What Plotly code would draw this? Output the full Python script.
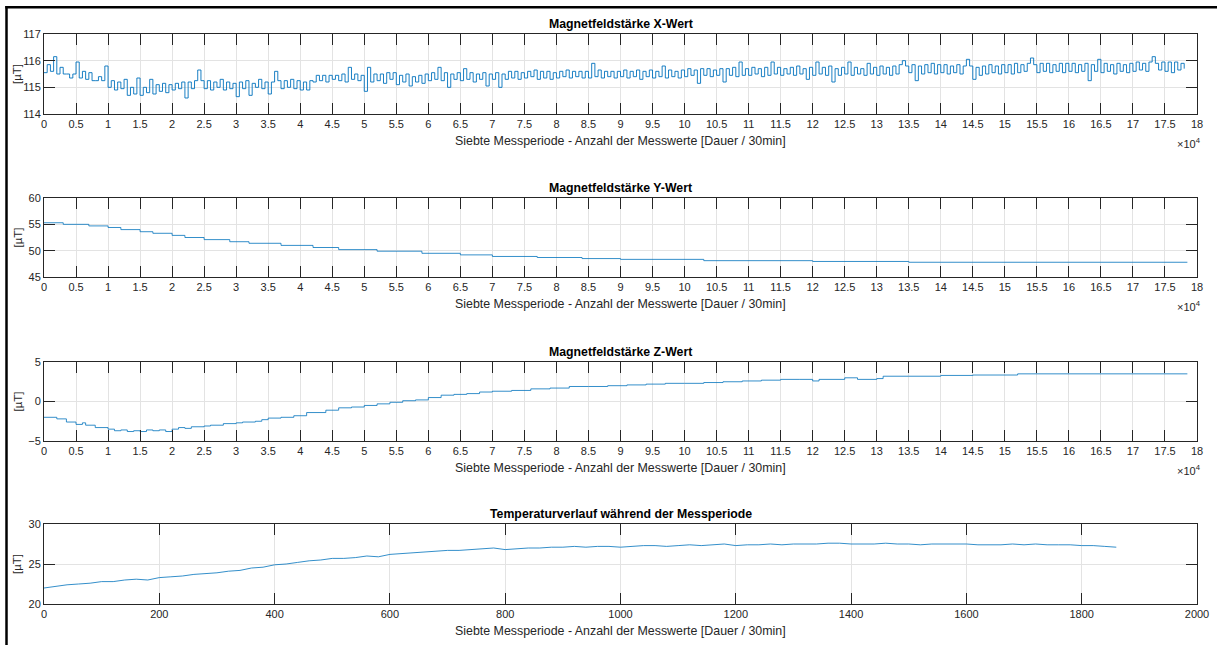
import numpy as np
import plotly.graph_objects as go

# ---------------- data ----------------
# Magnetfeldstärke X-Wert: one reading per 500 samples
x_vals = [
    115.55, 115.85, 115.6, 116.15, 115.5, 115.75, 115.5, 115.5, 115.35, 115.5,
    115.95, 115.35, 115.6, 115.3, 115.55, 115.25, 115.25, 115.4, 115.25, 115.8,
    115.0, 115.25, 114.9, 115.2, 114.95, 115.3, 114.7, 115.0, 114.75, 115.35,
    114.7, 115.0, 114.8, 115.3, 114.75, 115.1, 114.85, 115.15, 114.8, 115.1,
    114.9, 115.15, 114.95, 115.2, 114.6, 115.2, 114.95, 115.25, 115.65, 115.25,
    114.95, 115.25, 114.9, 115.2, 115.0, 115.3, 114.9, 115.2, 114.95, 115.15,
    114.65, 115.2, 114.95, 115.25, 114.7, 115.15, 115.0, 115.3, 114.95, 115.2,
    114.75, 115.2, 115.6, 115.25, 114.95, 115.25, 115.0, 115.3, 114.95, 115.25,
    114.9, 115.2, 114.9, 115.25, 115.2, 115.45, 115.25, 115.45, 115.2, 115.45,
    115.3, 115.45, 115.25, 115.5, 115.2, 115.75, 115.3, 115.5, 115.25, 115.45,
    114.85, 115.75, 115.2, 115.5, 115.25, 115.5, 115.15, 115.55, 115.3, 115.55,
    115.1, 115.45, 115.2, 115.5, 115.05, 115.4, 115.2, 115.45, 115.15, 115.5,
    115.25, 115.55, 115.3, 115.75, 115.25, 115.55, 115.0, 115.5, 115.3, 115.55,
    115.25, 115.7, 115.3, 115.55, 115.2, 115.5, 115.3, 115.55, 115.05, 115.5,
    115.3, 115.55, 115.0, 115.5, 115.3, 115.6, 115.35, 115.6, 115.3, 115.55,
    115.35, 115.6, 115.4, 115.65, 115.3, 115.6, 115.35, 115.6, 115.3, 115.55,
    115.35, 115.6, 115.4, 115.65, 115.35, 115.6, 115.4, 115.6, 115.35, 115.6,
    115.35, 115.9, 115.4, 115.65, 115.35, 115.6, 115.4, 115.6, 115.35, 115.6,
    115.4, 115.65, 115.35, 115.6, 115.4, 115.65, 115.3, 115.6, 115.4, 115.65,
    115.35, 115.6, 115.4, 115.8, 115.35, 115.65, 115.4, 115.6, 115.35, 115.65,
    115.4, 115.7, 115.45, 115.65, 115.15, 115.7, 115.45, 115.7, 115.4, 115.65,
    115.45, 115.7, 115.2, 115.7, 115.45, 115.75, 115.4, 115.95, 115.45, 115.7,
    115.45, 115.75, 115.5, 115.7, 115.4, 115.75, 115.45, 115.95, 115.5, 115.75,
    115.45, 115.7, 115.5, 115.75, 115.45, 115.8, 115.5, 115.7, 115.3, 115.75,
    115.45, 115.95, 115.5, 115.75, 115.45, 115.8, 115.2, 115.7, 115.45, 115.75,
    115.5, 115.95, 115.45, 115.75, 115.5, 115.7, 115.45, 115.9, 115.5, 115.75,
    115.45, 115.8, 115.5, 115.75, 115.45, 115.8, 115.5, 115.85, 116.0, 115.8,
    115.55, 115.85, 115.25, 115.8, 115.5, 115.85, 115.55, 115.9, 115.5, 115.85,
    115.55, 115.85, 115.5, 115.8, 115.55, 115.85, 115.5, 115.8, 116.05, 115.8,
    115.3, 115.75, 115.45, 115.8, 115.5, 115.85, 115.55, 115.8, 115.5, 115.85,
    115.55, 115.85, 115.5, 115.9, 115.55, 115.85, 115.6, 115.9, 116.1, 115.85,
    115.55, 115.9, 115.6, 115.9, 115.55, 115.85, 115.6, 115.9, 115.55, 115.9,
    115.6, 115.9, 115.55, 115.85, 115.6, 115.9, 115.25, 115.85, 115.6, 116.05,
    115.55, 115.9, 115.6, 115.85, 115.5, 115.9, 115.6, 115.85, 115.55, 115.9,
    115.6, 115.95, 115.65, 115.9, 115.6, 115.95, 116.15, 115.9, 115.65, 115.95,
    115.6, 115.95, 115.55, 115.95, 115.65, 115.9, 115.7]
x_step = 500

# Magnetfeldstärke Y-Wert: step levels (sample index, value)
y_idx = [0, 3000, 7000, 10000, 12000, 15000, 17000, 20000, 22000, 25000,
         29000, 32000, 37000, 42000, 46000, 52000, 59000, 65000, 70000, 77000,
         84000, 90000, 103000, 120000, 135000, 178500]
y_vals = [55.3, 55.0, 54.7, 54.4, 54.0, 53.6, 53.3, 52.9, 52.5, 52.1,
          51.7, 51.4, 51.0, 50.6, 50.2, 49.9, 49.5, 49.2, 48.9, 48.7,
          48.5, 48.35, 48.1, 47.95, 47.8, 47.8]

# Magnetfeldstärke Z-Wert: step levels (sample index, value)
z_idx = [0, 2000, 3500, 5000, 6000, 6500, 8000, 10000, 11000, 12000,
         13000, 14000, 15000, 16000, 17000, 18000, 19000, 20000, 21000, 22000,
         23000, 25000, 26000, 28000, 30000, 31000, 33000, 34000, 35000, 37000,
         39000, 41000, 44000, 46000, 48000, 50000, 52000, 54000, 56000, 58000,
         60000, 62000, 64000, 66000, 68000, 70000, 73000, 76000, 79000, 82000,
         85000, 88000, 91000, 94000, 97000, 100000, 103000, 106000, 109000, 112000,
         115000, 118000, 120000, 121000, 125000, 127000, 130000, 131000, 135000, 140000,
         145000, 152000, 178500]
z_vals = [-2.0, -2.2, -2.6, -2.9, -2.7, -3.0, -3.3, -3.5, -3.7, -3.6,
          -3.8, -3.7, -3.8, -3.6, -3.7, -3.6, -3.8, -3.5, -3.3, -3.4,
          -3.2, -3.1, -3.0, -2.8, -2.7, -2.6, -2.5, -2.3, -2.1, -2.0,
          -1.8, -1.4, -1.1, -0.8, -0.7, -0.5, -0.3, -0.1, 0.1, 0.2,
          0.5, 0.8, 0.9, 1.0, 1.2, 1.3, 1.4, 1.6, 1.7, 1.9,
          1.9, 2.0, 2.1, 2.2, 2.3, 2.3, 2.4, 2.5, 2.6, 2.7,
          2.8, 2.8, 2.6, 2.8, 3.0, 2.8, 2.9, 3.2, 3.2, 3.3,
          3.35, 3.5, 3.5]

# Temperaturverlauf: one value per 20 measurements
t_vals = [22.0, 22.2, 22.4, 22.5, 22.6, 22.8, 22.8, 23.0, 23.1, 23.0,
          23.3, 23.4, 23.5, 23.7, 23.8, 23.9, 24.1, 24.2, 24.5, 24.6,
          24.9, 25.0, 25.2, 25.4, 25.5, 25.7, 25.7, 25.8, 26.0, 25.9,
          26.2, 26.3, 26.4, 26.5, 26.6, 26.7, 26.7, 26.8, 26.9, 27.0,
          26.8, 26.9, 27.0, 27.0, 27.1, 27.1, 27.2, 27.1, 27.2, 27.2,
          27.1, 27.2, 27.3, 27.3, 27.2, 27.3, 27.4, 27.3, 27.4, 27.5,
          27.3, 27.4, 27.4, 27.5, 27.4, 27.5, 27.5, 27.5, 27.6, 27.6,
          27.5, 27.5, 27.5, 27.6, 27.5, 27.5, 27.4, 27.5, 27.5, 27.5,
          27.5, 27.4, 27.4, 27.4, 27.5, 27.4, 27.5, 27.4, 27.4, 27.4,
          27.3, 27.3, 27.2, 27.1]
t_step = 20

titles = ["Magnetfeldstärke X-Wert", "Magnetfeldstärke Y-Wert",
          "Magnetfeldstärke Z-Wert", "Temperaturverlauf während der Messperiode"]
xlabel = "Siebte Messperiode - Anzahl der Messwerte [Dauer / 30min]"
ylabel = "[µT]"

mag_tick_vals = [i * 5000 for i in range(37)]
mag_tick_text = ["0", "0.5", "1", "1.5", "2", "2.5", "3", "3.5", "4", "4.5", "5", "5.5",
                 "6", "6.5", "7", "7.5", "8", "8.5", "9", "9.5", "10", "10.5", "11", "11.5",
                 "12", "12.5", "13", "13.5", "14", "14.5", "15", "15.5", "16", "16.5",
                 "17", "17.5", "18"]
temp_tick_vals = [0, 200, 400, 600, 800, 1000, 1200, 1400, 1600, 1800, 2000]
y_ranges = [(114, 117), (45, 60), (-5, 5), (20, 30)]
y_ticks = [[114, 115, 116, 117], [45, 50, 55, 60], [-5, 0, 5], [20, 25, 30]]

# ---------------- figure ----------------
W, H = 1217, 645
FONT = "Liberation Sans, Arial, Helvetica, sans-serif"
TXT = "#262626"
LINE = "#0072BD"

left_px, right_px = 44, 1197
tops = [34, 198, 362, 524]
bottoms = [114, 277, 441, 604]

fig = go.Figure()

series = [
    (np.arange(len(x_vals)) * x_step, x_vals, "hv", 0.9),
    (y_idx, y_vals, "hv", 0.8),
    (z_idx, z_vals, "hv", 0.8),
    (np.arange(len(t_vals)) * t_step, t_vals, "linear", 0.8),
]

for k, (xs, ys, shape, lw) in enumerate(series):
    ax = "" if k == 0 else str(k + 1)
    fig.add_trace(go.Scatter(x=list(xs), y=ys, mode="lines", line_shape=shape,
                             line=dict(color=LINE, width=lw),
                             xaxis="x" + ax, yaxis="y" + ax, showlegend=False,
                             hoverinfo="skip"))
    xd = [left_px / W, right_px / W]
    yd = [1 - bottoms[k] / H, 1 - tops[k] / H]
    if k < 3:
        xr = [0, 180000]
        tv, tt = mag_tick_vals, mag_tick_text
    else:
        xr = [0, 2000]
        tv, tt = temp_tick_vals, [str(v) for v in temp_tick_vals]
    common = dict(showline=True, linecolor=TXT, linewidth=1, mirror="allticks",
                  ticks="inside", ticklen=11, tickwidth=1, tickcolor=TXT,
                  showgrid=True, gridcolor="#e3e3e3", gridwidth=1, zeroline=False,
                  automargin=False,
                  tickfont=dict(family=FONT, size=11, color=TXT))
    fig.layout["xaxis" + ax] = dict(domain=xd, range=xr, tickvals=tv, ticktext=tt,
                                    anchor="y" + ax, **common)
    fig.layout["yaxis" + ax] = dict(domain=yd, range=list(y_ranges[k]),
                                    tickvals=y_ticks[k], anchor="x" + ax, **common)

    # title
    fig.add_annotation(x=(left_px + right_px) / 2 / W, y=1 - (tops[k] - 10) / H,
                       xref="paper", yref="paper", text="<b>" + titles[k] + "</b>",
                       showarrow=False, font=dict(family=FONT, size=12.3, color="#000000"),
                       xanchor="center", yanchor="middle")
    # x label
    fig.add_annotation(x=(left_px + right_px) / 2 / W, y=1 - (bottoms[k] + 27) / H,
                       xref="paper", yref="paper", text=xlabel,
                       showarrow=False, font=dict(family=FONT, size=12.4, color=TXT),
                       xanchor="center", yanchor="middle")
    # y label
    fig.add_annotation(x=17 / W, y=1 - (tops[k] + bottoms[k]) / 2 / H,
                       xref="paper", yref="paper", text=ylabel, textangle=-90,
                       showarrow=False, font=dict(family=FONT, size=11.5, color=TXT),
                       xanchor="center", yanchor="middle")
    if k < 3:
        fig.add_annotation(x=1189 / W, y=1 - (bottoms[k] + 29) / H,
                           xref="paper", yref="paper",
                           text="×10<sup>4</sup>", showarrow=False,
                           font=dict(family=FONT, size=11, color=TXT),
                           xanchor="center", yanchor="middle")

# outer frame (left and top edges)
fig.add_shape(type="line", xref="paper", yref="paper",
              x0=6.5 / W, x1=6.5 / W, y0=0, y1=1 - 6 / H,
              line=dict(color="#000000", width=2.5))
fig.add_shape(type="line", xref="paper", yref="paper",
              x0=5.3 / W, x1=1, y0=1 - 7.3 / H, y1=1 - 7.3 / H,
              line=dict(color="#000000", width=2.5))

fig.update_layout(width=W, height=H, autosize=False,
                  margin=dict(l=0, r=0, t=0, b=0, pad=0),
                  paper_bgcolor="white", plot_bgcolor="white",
                  font=dict(family=FONT, color=TXT))

fig.write_html("out.html")
